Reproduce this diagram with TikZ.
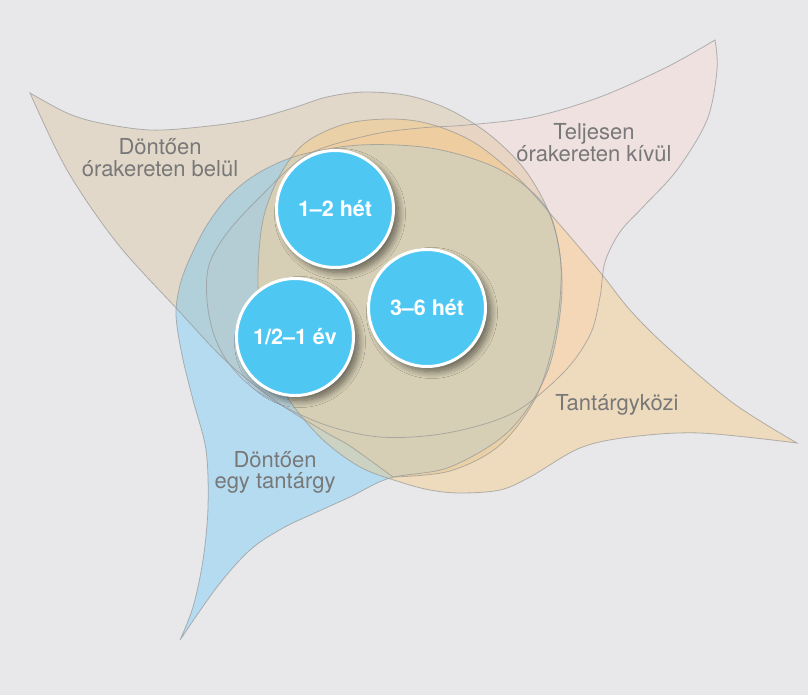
\documentclass[tikz,border=0pt]{standalone}
\usepackage{fontspec}
\setmainfont{TeX Gyre Heros}
\usetikzlibrary{shadows.blur}
\definecolor{bgc}{RGB}{232,232,234}
\definecolor{tanc}{RGB}{215,182,131}
\definecolor{bluec}{RGB}{65,192,254}
\definecolor{pinkc}{RGB}{255,212,201}
\definecolor{orangec}{RGB}{255,192,85}
\definecolor{khakic}{RGB}{215,207,181}
\definecolor{outl}{RGB}{150,150,150}
\definecolor{lblgray}{RGB}{120,120,120}
\definecolor{bub}{RGB}{78,200,243}
\def\pathPink{plot[smooth, tension=0.55] coordinates {(715,40) (667,67) (600,97) (533,117) (467,125) (420,128) (370,135) (307,155) (260,197) (227,233) (209,265) (207,300) (214,335) (230,365) (260,393) (320,423) (380,437) (447,433) (513,413) (563,373) (590,335) (600,297) (605,262) (620,232) (643,207) (677,170) (707,120) (717,70) (715,40)} -- cycle}
\def\pathTan{plot[smooth, tension=0.55] coordinates {(30,93) (67,113) (100,123) (150,130) (200,127) (250,120) (293,108) (327,97) (365,92) (410,96) (450,110) (490,135) (525,170) (550,215) (561,265) (556,330) (537,395) (500,445) (450,471) (393,477)} -- plot[smooth, tension=0.55] coordinates {(393,477) (350,446) (327,433) (277,402) (227,362) (177,309) (117,243) (67,170) (30,93)} -- cycle}
\def\pathBlue{plot[smooth, tension=0.55] coordinates {(180,640) (193,607) (203,560) (208,507) (206,450) (193,400) (182,355) (176,315) (180,285) (190,258) (207,225) (230,195) (260,172) (300,155) (360,145) (430,148) (490,165) (530,190) (553,222) (562,290) (548,370) (510,430) (450,467) (390,478) (350,497) (317,512) (283,528) (250,550) (217,587) (180,640)} -- cycle}
\def\pathOrange{plot[smooth, tension=0.55] coordinates {(797,443) (733,403) (667,347) (630,310) (600,272) (560,225) (520,180) (475,143) (430,124) (390,119) (345,124) (305,143) (280,175) (263,220) (258,280) (264,340) (285,393) (320,437) (360,467) (400,482) (430,490) (460,493) (500,490) (530,477) (580,448) (630,437) (700,433) (797,443)} -- cycle}
\begin{document}
\begin{tikzpicture}[x=1pt,y=-1pt,
  blobfill/.style={fill opacity=0.3},
  blobline/.style={draw=outl, line width=0.8pt, draw opacity=0.7},
  lbl/.style={text=lblgray, font=\fontsize{22}{24}\selectfont, anchor=base, inner sep=0pt},
  bubble/.style={circle, minimum size=117pt, inner sep=0pt, fill=bub, draw=white,
    line width=3pt, text=white, font=\bfseries\fontsize{21.5}{24}\selectfont,
    blur shadow={shadow xshift=5pt, shadow yshift=-5pt, shadow blur radius=7pt,
      shadow opacity=55, shadow blur steps=12}}]
\useasboundingbox (0,0) rectangle (808,695);
\fill[bgc] (0,0) rectangle (808,695);
% fills
\fill[blobfill, pinkc] \pathPink;
\fill[blobfill, tanc] \pathTan;
\fill[blobfill, bluec] \pathBlue;
\fill[blobfill, orangec] \pathOrange;
% common centre
\begin{scope}
  \clip \pathTan;
  \clip \pathBlue;
  \fill[khakic] \pathOrange;
\end{scope}
% outlines
\draw[blobline] \pathPink;
\draw[blobline] \pathTan;
\draw[blobline] \pathBlue;
\draw[blobline] \pathOrange;
% labels
\node[lbl] (l1a) at (160,155) {Döntően};
\node[lbl] (l1b) at (160,177) {órakereten belül};
\node[lbl] (l2a) at (594,140) {Teljesen};
\node[lbl] (l2b) at (594,162) {órakereten kívül};
\node[lbl] (l3) at (617,410) {Tantárgyközi};
\node[lbl] (l4a) at (275,467) {Döntően};
\node[lbl] (l4b) at (275,488) {egy tantárgy};
% bubbles
\node[bubble] (b1) at (335,209) {1–2 hét};
\node[bubble] (b2) at (427,308) {3–6 hét};
\node[bubble] (b3) at (295,337) {1/2–1 év};
\end{tikzpicture}
\end{document}
